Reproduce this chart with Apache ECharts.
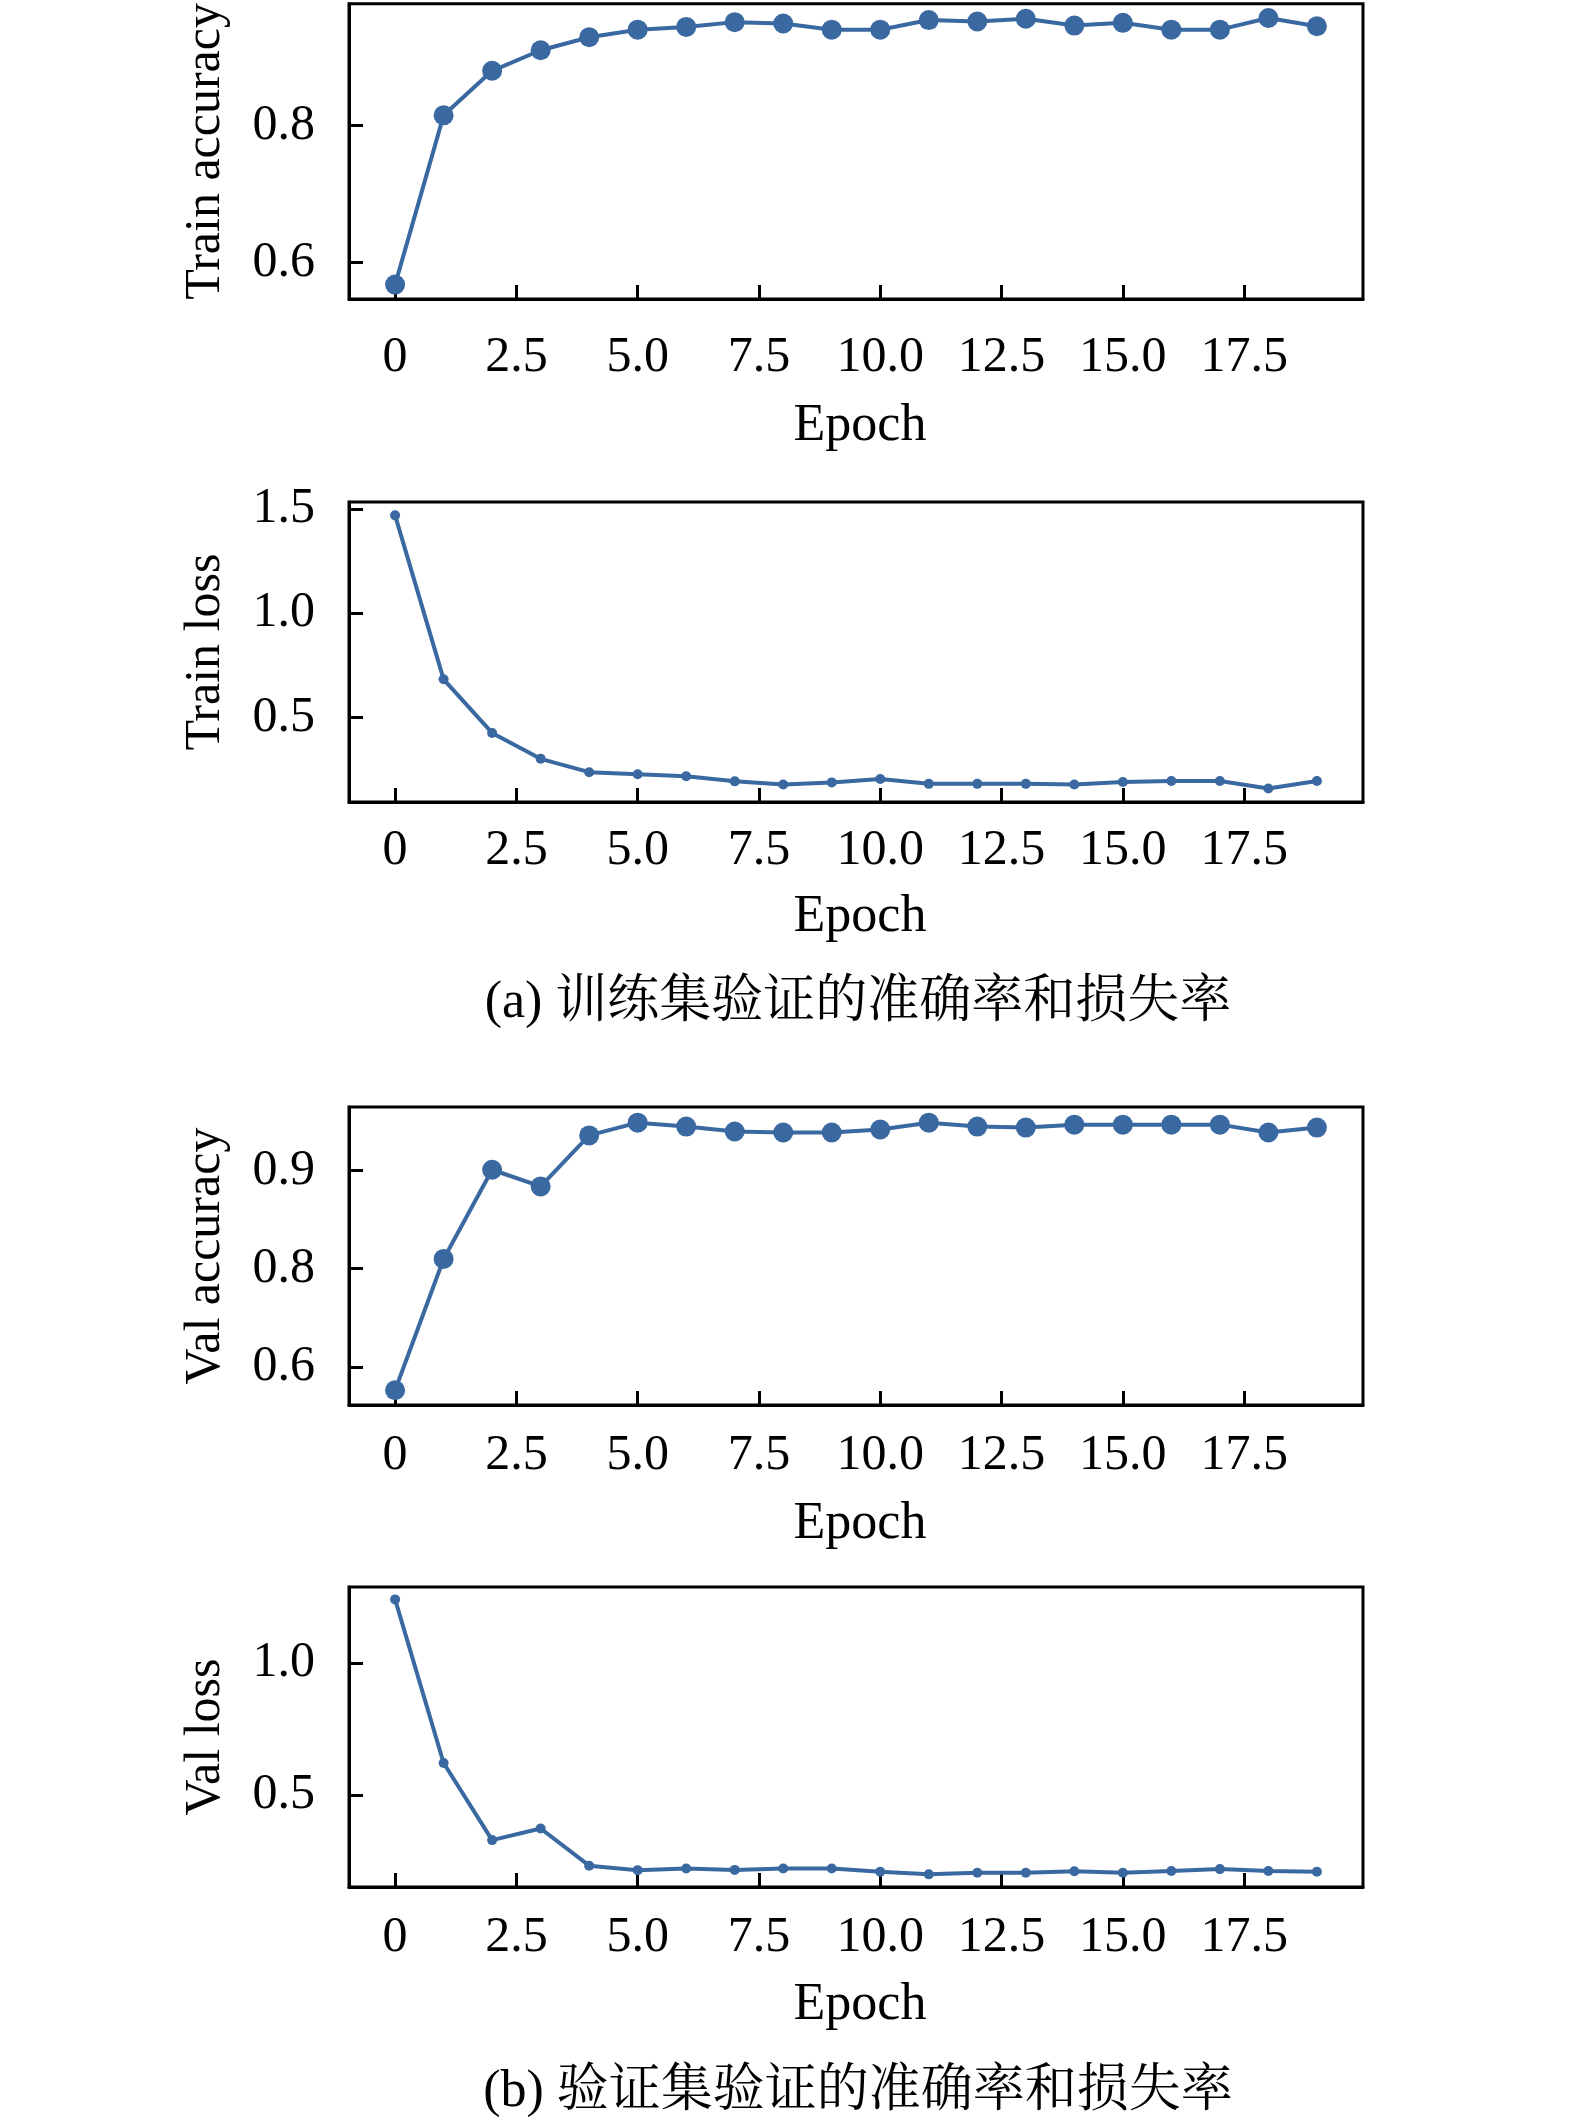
<!DOCTYPE html>
<html>
<head>
<meta charset="utf-8">
<script src="https://cdn.jsdelivr.net/npm/echarts@6/dist/echarts.min.js"></script>
<style>
html,body{margin:0;padding:0;background:#fff;}
#chart{width:1575px;height:2121px;}
</style>
</head>
<body>
<div id="chart"></div>
<script>
// ---- data ----
const epochs = [0,1,2,3,4,5,6,7,8,9,10,11,12,13,14,15,16,17,18,19];
const trainAcc = [0.568,0.815,0.880,0.910,0.929,0.940,0.944,0.951,0.949,0.940,0.940,0.954,0.952,0.956,0.946,0.950,0.940,0.940,0.957,0.945];
const trainLoss = [1.469,0.683,0.426,0.302,0.238,0.228,0.218,0.194,0.179,0.189,0.205,0.182,0.182,0.182,0.179,0.191,0.196,0.196,0.160,0.196];
const valAcc = [0.676,0.810,0.901,0.884,0.936,0.949,0.945,0.940,0.939,0.939,0.942,0.949,0.945,0.944,0.947,0.947,0.947,0.947,0.939,0.944];
const valLoss = [1.242,0.621,0.328,0.372,0.231,0.214,0.220,0.215,0.220,0.220,0.208,0.198,0.204,0.204,0.210,0.204,0.211,0.218,0.211,0.208];

// tick values and their printed labels
const xTickValues = [0,2.5,5,7.5,10,12.5,15,17.5];
const xTickLabels = ['0','2.5','5.0','7.5','10.0','12.5','15.0','17.5'];
const trainAccTicks = [0.6,0.8];
const trainAccTickLabels = ['0.6','0.8'];
const trainLossTicks = [0.5,1.0,1.5];
const trainLossTickLabels = ['0.5','1.0','1.5'];
const valAccTicks = [0.7,0.8,0.9];
const valAccTickLabels = ['0.6','0.8','0.9'];
const valLossTicks = [0.5,1.0];
const valLossTickLabels = ['0.5','1.0'];

const yNames = ['Train accuracy','Train loss','Val accuracy','Val loss'];
const captions = ['(a) 训练集验证的准确率和损失率','(b) 验证集验证的准确率和损失率'];

// ---- layout ----
const FONT = "'Liberation Serif','Times New Roman',serif";
const CJK = "'Liberation Serif','Noto Serif CJK SC','Noto Sans CJK SC',serif";
const COLOR = '#3a68a1';
const panels = [
  {top:2,    bottom:299,  ymin:0.547, ymax:0.978, ticks:trainAccTicks, labels:trainAccTickLabels, data:trainAcc, sym:20, xMargin:34, nameGap:101},
  {top:502,  bottom:802,  ymin:0.095, ymax:1.533, ticks:trainLossTicks, labels:trainLossTickLabels, data:trainLoss, sym:10, xMargin:24, nameGap:89},
  {top:1107, bottom:1405, ymin:0.661, ymax:0.965, ticks:valAccTicks, labels:valAccTickLabels, data:valAcc, sym:20, xMargin:26, nameGap:93},
  {top:1587, bottom:1887, ymin:0.150, ymax:1.289, ticks:valLossTicks, labels:valLossTickLabels, data:valLoss, sym:10, xMargin:26, nameGap:92}
];

const grids = [], xAxes = [], yAxes = [], series = [];
panels.forEach((p,i) => {
  grids.push({left:349, right:212, top:p.top, height:p.bottom-p.top, show:true, borderColor:'#000', borderWidth:3, backgroundColor:'#fff'});
  xAxes.push({
    gridIndex:i, type:'value', min:-0.95, max:19.95,
    axisLine:{show:true, onZero:false, lineStyle:{color:'#000', width:3}},
    axisTick:{show:true, inside:true, length:14, lineStyle:{color:'#000', width:3}, customValues:xTickValues},
    axisLabel:{show:true, customValues:xTickValues, margin:p.xMargin, fontFamily:FONT, fontSize:50, color:'#000',
      formatter:(v)=>{const k=xTickValues.indexOf(v); return k>=0?xTickLabels[k]:'';}},
    splitLine:{show:false},
    name:'Epoch', nameLocation:'middle', nameGap:p.nameGap,
    nameTextStyle:{fontFamily:FONT, fontSize:52, color:'#000', padding:[0,0,0,8]}
  });
  yAxes.push({
    gridIndex:i, type:'value', min:p.ymin, max:p.ymax,
    axisLine:{show:true, onZero:false, lineStyle:{color:'#000', width:3}},
    axisTick:{show:true, inside:true, length:14, lineStyle:{color:'#000', width:3}, customValues:p.ticks},
    axisLabel:{show:true, customValues:p.ticks, margin:34, fontFamily:FONT, fontSize:50, color:'#000',
      formatter:(v)=>{let k=-1; p.ticks.forEach((t,j)=>{if(Math.abs(t-v)<1e-9)k=j;}); return k>=0?p.labels[k]:'';}},
    splitLine:{show:false},
    name:yNames[i], nameLocation:'middle', nameGap:118, nameRotate:90,
    nameTextStyle:{fontFamily:FONT, fontSize:50, color:'#000'}
  });
  series.push({
    type:'line', xAxisIndex:i, yAxisIndex:i,
    data:epochs.map((e,k)=>[e,p.data[k]]),
    symbol:'circle', symbolSize:p.sym, showSymbol:true,
    lineStyle:{color:COLOR, width:4}, itemStyle:{color:COLOR},
    clip:false, animation:false, z:5
  });
});

const chart = echarts.init(document.getElementById('chart'), null, {renderer:'canvas'});
chart.setOption({
  backgroundColor:'#fff',
  animation:false,
  grid:grids, xAxis:xAxes, yAxis:yAxes, series:series,
  graphic:[
    {type:'text', x:858, y:1003, style:{text:captions[0], fontFamily:CJK, fontSize:52, fill:'#000', align:'center', verticalAlign:'middle'}},
    {type:'text', x:858, y:2092, style:{text:captions[1], fontFamily:CJK, fontSize:52, fill:'#000', align:'center', verticalAlign:'middle'}}
  ]
});
</script>
</body>
</html>
